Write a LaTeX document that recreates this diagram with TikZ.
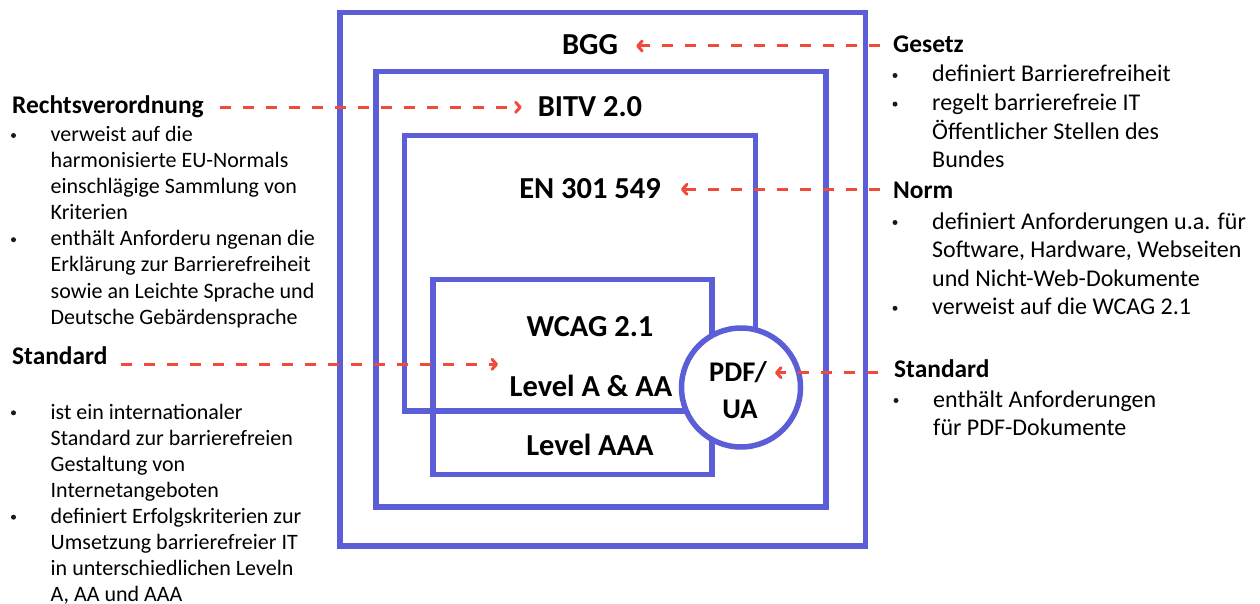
\documentclass[tikz,border=0pt]{standalone}
\usepackage{fontspec}
\setmainfont{Carlito}
\usetikzlibrary{arrows.meta}
\definecolor{boxblue}{RGB}{91,94,214}
\definecolor{arrred}{RGB}{240,74,58}
\begin{document}
\begin{tikzpicture}[x=1pt,y=-1pt,
  frame/.style={draw=boxblue,line width=5.5pt},
  lbl/.style={font=\fontsize{30.5}{36}\selectfont\bfseries,anchor=base,inner sep=0pt},
  circlbl/.style={font=\fontsize{28.5}{34}\selectfont\bfseries,anchor=base,inner sep=0pt},
  head/.style={font=\fontsize{25.4}{30}\selectfont\bfseries,anchor=base west,inner sep=0pt},
  bodyL/.style={font=\fontsize{22}{26}\selectfont,anchor=base west,inner sep=0pt},
  bodyR/.style={font=\fontsize{24}{28}\selectfont,anchor=base west,inner sep=0pt},
  dot/.style={circle,fill=black!90,inner sep=0pt,minimum size=5pt},
  arr/.style={draw=arrred,line width=3pt,dash pattern=on 11.5pt off 11.5pt,
    -{Straight Barb[length=4.5pt,width=10pt,round]}}
]
\useasboundingbox (0,0) rectangle (1260,604);

% nested frames
\draw[frame] (340,12.5) rectangle (865.5,546);
\draw[frame] (376,71.5) rectangle (826,507);
\draw[frame] (404.7,135.5) rectangle (755.5,411);
\draw[frame] (433,279.5) rectangle (712,474.5);
\node[circle,draw=boxblue,fill=white,line width=5.5pt,minimum size=119pt,inner sep=0pt] (pdfua) at (741,387.5) {};

% box labels
\node[lbl] (bgg) at (590,55) {BGG};
\node[lbl] (bitv) at (590,117) {BITV 2.0};
\node[lbl] (en) at (590,198) {EN 301 549};
\node[lbl] (wcag) at (590,336.7) {WCAG 2.1};
\node[lbl] (levaa) at (591,396.7) {Level A \& AA};
\node[lbl] (levaaa) at (590,455) {Level AAA};
\node[circlbl] (pdf) at (738,381.7) {PDF/};
\node[circlbl] (ua) at (740,418) {UA};

% left: Rechtsverordnung
\node[head] (rvo) at (12,114) {Rechtsverordnung};
\foreach \t [count=\i from 0] in {verweist auf die, harmonisierte EU-Normals, einschlägige Sammlung von, Kriterien, enthält Anforderu ngenan die, Erklärung zur Barrierefreiheit, sowie an Leichte Sprache und, Deutsche Gebärdensprache}
  \node[bodyL] (rl\i) at (50.5,141.7+\i*26.05) {\t};
\node[dot] (rb0) at (13.5,135.5) {};
\node[dot] (rb1) at (13.5,239.7) {};

% left: Standard
\node[head] (stdl) at (12,364) {Standard};
\foreach \t [count=\i from 0] in {ist ein internationaler, Standard zur barrierefreien, Gestaltung von, Internetangeboten, definiert Erfolgskriterien zur, Umsetzung barrierefreier IT, in unterschiedlichen Leveln, {A, AA und AAA}}
  \node[bodyL] (sl\i) at (50.5,419+\i*26.1) {\t};
\node[dot] (sb0) at (13.5,412.8) {};
\node[dot] (sb1) at (13.5,517.2) {};

% right: Gesetz
\node[head] (gesetz) at (893,52.7) {Gesetz};
\foreach \t [count=\i from 0] in {definiert Barrierefreiheit, regelt barrierefreie IT, Öffentlicher Stellen des, Bundes}
  \node[bodyR] (gl\i) at (932,82+\i*28.6) {\t};
\node[dot] (gb0) at (895,75.5) {};
\node[dot] (gb1) at (895,104.1) {};

% right: Norm
\node[head] (norm) at (893,199) {Norm};
\foreach \t [count=\i from 0] in {definiert Anforderungen u.a. für, {Software, Hardware, Webseiten}, und Nicht-Web-Dokumente, verweist auf die WCAG 2.1}
  \node[bodyR] (nl\i) at (932,229+\i*28.6) {\t};
\node[dot] (nb0) at (895,222.5) {};
\node[dot] (nb1) at (895,308.3) {};

% right: Standard
\node[head] (stdr) at (894,377) {Standard};
\node[bodyR] (pl0) at (933,407) {enthält Anforderungen};
\node[bodyR] (pl1) at (933,435) {für PDF-Dokumente};
\node[dot] (pb0) at (896,400.5) {};

% connectors
\coordinate (y1) at (0,46);
\coordinate (y2) at (0,107.3);
\coordinate (y3) at (0,189.3);
\coordinate (wtip) at (498,364.3);
\coordinate (y5) at (0,372.7);
\draw[arr] ([xshift=-13pt]gesetz.west |- y1) -- ([xshift=18pt]bgg.east |- y1);
\draw[arr] ([xshift=16pt]rvo.east |- y2) -- ([xshift=-16pt]bitv.west |- y2);
\draw[arr] ([xshift=-13pt]norm.west |- y3) -- ([xshift=20pt]en.east |- y3);
\draw[arr] ([xshift=13pt]stdl.east |- wtip) -- (wtip);
\draw[arr] ([xshift=-16pt]stdr.west |- y5) -- ([xshift=8pt]pdf.east |- y5);
\end{tikzpicture}
\end{document}
